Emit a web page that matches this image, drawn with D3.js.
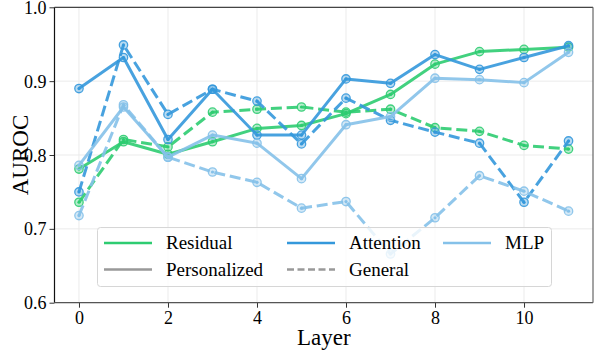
<!DOCTYPE html>
<html><head><meta charset="utf-8">
<script src="https://cdn.jsdelivr.net/npm/d3@7"></script>
<style>body{margin:0;background:#fff}svg{display:block}svg text{font-family:"Liberation Serif","DejaVu Serif",serif}</style>
</head><body>
<svg id="c" width="596" height="350"></svg>
<script>
const layers = [0,1,2,3,4,5,6,7,8,9,10,11];
const residualPersonalized = [0.781,0.818,0.801,0.818,0.836,0.840,0.856,0.882,0.923,0.940,0.943,0.946];
const residualGeneral      = [0.736,0.821,0.811,0.858,0.862,0.865,0.858,0.862,0.837,0.832,0.813,0.808];
const attentionPersonalized= [0.890,0.932,0.821,0.889,0.827,0.827,0.903,0.897,0.936,0.916,0.932,0.948];
const attentionGeneral     = [0.750,0.949,0.855,0.889,0.873,0.815,0.877,0.847,0.831,0.816,0.736,0.819];
const mlpPersonalized      = [0.786,0.865,0.797,0.827,0.816,0.768,0.841,0.852,0.904,0.902,0.898,0.939];
const mlpGeneral           = [0.718,0.868,0.797,0.777,0.763,0.728,0.737,0.666,0.715,0.772,0.751,0.724];
const xTicks = [0,2,4,6,8,10];
const yTicks = [0.6,0.7,0.8,0.9,1.0];
const components = ["Residual","Attention","MLP"];
const colors = {Residual:"#2ecc71", Attention:"#3498db", MLP:"#85c1e9"};
const series = [
  {comp:"Residual", kind:"Personalized", values:residualPersonalized},
  {comp:"Residual", kind:"General", values:residualGeneral},
  {comp:"Attention", kind:"Personalized", values:attentionPersonalized},
  {comp:"Attention", kind:"General", values:attentionGeneral},
  {comp:"MLP", kind:"Personalized", values:mlpPersonalized},
  {comp:"MLP", kind:"General", values:mlpGeneral}
];

const svg = d3.select("#c");
const L=54.5, R=593, T=7.3, B=302.7;
const x = d3.scaleLinear().domain([-0.55,11.55]).range([L,R]);
const y = d3.scaleLinear().domain([0.6,1.0]).range([B,T]);
const font = '"Liberation Serif","DejaVu Serif",serif';

// grid
const g = svg.append("g");
g.selectAll(".gx").data(xTicks).join("line")
  .attr("x1",d=>x(d)).attr("x2",d=>x(d)).attr("y1",T).attr("y2",B)
  .attr("stroke","#ebebeb").attr("stroke-width",1);
g.selectAll(".gy").data(yTicks).join("line")
  .attr("y1",d=>y(d)).attr("y2",d=>y(d)).attr("x1",L).attr("x2",R)
  .attr("stroke","#ebebeb").attr("stroke-width",1);

// lines
const line = d3.line().x((d,i)=>x(layers[i])).y(d=>y(d));
const plot = svg.append("g");
series.forEach(s=>{
  const c = colors[s.comp];
  plot.append("path").datum(s.values).attr("d",line)
    .attr("fill","none").attr("stroke",c).attr("stroke-width",3)
    .attr("stroke-opacity",0.9)
    .attr("stroke-dasharray", s.kind==="General" ? "11,4.8" : null)
    .attr("stroke-linejoin","round");
  const m = plot.append("g");
  m.selectAll("circle.o").data(s.values).join("circle")
    .attr("cx",(d,i)=>x(layers[i])).attr("cy",d=>y(d)).attr("r",4.2)
    .attr("fill",c).attr("fill-opacity",0.35).attr("stroke",c).attr("stroke-width",1.3).attr("stroke-opacity",0.9);
  m.selectAll("circle.i").data(s.values).join("circle")
    .attr("cx",(d,i)=>x(layers[i])).attr("cy",d=>y(d)).attr("r",1.6)
    .attr("fill",c);
});

// axes
const xAxis = svg.append("g").attr("transform",`translate(0,${B})`)
  .call(d3.axisBottom(x).tickValues(xTicks).tickSize(5).tickPadding(4).tickFormat(d3.format("d")));
const yAxis = svg.append("g").attr("transform",`translate(${L},0)`)
  .call(d3.axisLeft(y).tickValues(yTicks).tickSize(5).tickPadding(3).tickFormat(d3.format(".1f")));
[xAxis,yAxis].forEach(a=>{
  a.attr("font-family",null);
  a.select(".domain").remove();
  a.selectAll("text").style("font-family",font).style("font-size","18px").attr("fill","#000");
  a.selectAll("line").attr("stroke","#333");
});
yAxis.selectAll("text").attr("dy","0.34em");
// frame
svg.append("line").attr("x1",L).attr("x2",L).attr("y1",T).attr("y2",B).attr("stroke","#111").attr("stroke-width",1.2);
svg.append("line").attr("x1",L).attr("x2",R).attr("y1",B).attr("y2",B).attr("stroke","#555").attr("stroke-width",1.2);
svg.append("line").attr("x1",L).attr("x2",R).attr("y1",T).attr("y2",T).attr("stroke","#444").attr("stroke-width",1.2);
svg.append("line").attr("x1",R).attr("x2",R).attr("y1",T).attr("y2",B).attr("stroke","#666").attr("stroke-width",1.2);

// labels
svg.append("text").attr("x",(L+R)/2).attr("y",345).attr("text-anchor","middle")
  .style("font-family",font).style("font-size","23px").text("Layer");
svg.append("text").attr("transform",`translate(20,${(T+B)/2}) rotate(-90)`).attr("text-anchor","middle")
  .attr("dy","0.35em").style("font-family",font).style("font-size","23px").text("AUROC");

// legend
const lg = svg.append("g");
lg.append("rect").attr("x",97.5).attr("y",227.5).attr("width",454).attr("height",59).attr("rx",3)
  .attr("fill","#fff").attr("fill-opacity",0.8).attr("stroke","#d6d6d6").attr("stroke-width",1);
const legendItems = [
  {label:"Residual", color:colors.Residual, dash:null, col:0, row:0},
  {label:"Personalized", color:"#999", dash:null, col:0, row:1},
  {label:"Attention", color:colors.Attention, dash:null, col:1, row:0},
  {label:"General", color:"#999", dash:"7,3.5", col:1, row:1},
  {label:"MLP", color:colors.MLP, dash:null, col:2, row:0}
];
const colX = [104, 287, 443];
const rowY = [243, 269.5];
legendItems.forEach(it=>{
  const x0 = colX[it.col], yy = rowY[it.row];
  lg.append("line").attr("x1",x0).attr("x2",x0+48).attr("y1",yy).attr("y2",yy)
    .attr("stroke",it.color).attr("stroke-width",2.5).attr("stroke-dasharray",it.dash);
  lg.append("text").attr("x",x0+62).attr("y",yy).attr("dy","0.33em")
    .style("font-family",font).style("font-size","19px").text(it.label);
});
</script>
</body></html>
